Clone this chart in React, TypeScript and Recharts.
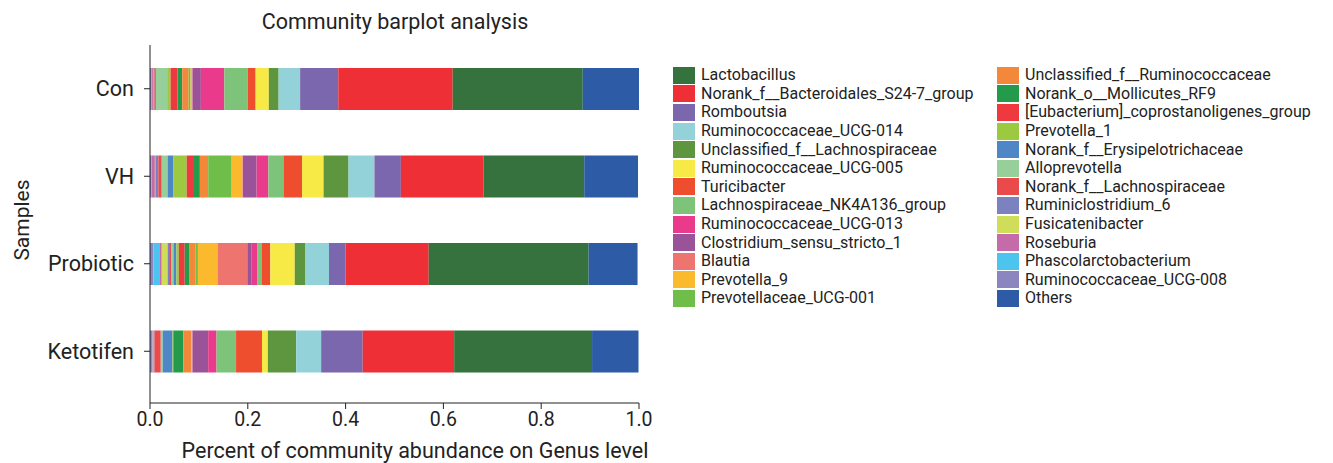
import React from 'react';
import { BarChart, Bar, XAxis, YAxis, Legend } from 'recharts';

// genera, in legend order
const genera = [
	'Lactobacillus',
	'Norank_f__Bacteroidales_S24-7_group',
	'Romboutsia',
	'Ruminococcaceae_UCG-014',
	'Unclassified_f__Lachnospiraceae',
	'Ruminococcaceae_UCG-005',
	'Turicibacter',
	'Lachnospiraceae_NK4A136_group',
	'Ruminococcaceae_UCG-013',
	'Clostridium_sensu_stricto_1',
	'Blautia',
	'Prevotella_9',
	'Prevotellaceae_UCG-001',
	'Unclassified_f__Ruminococcaceae',
	'Norank_o__Mollicutes_RF9',
	'[Eubacterium]_coprostanoligenes_group',
	'Prevotella_1',
	'Norank_f__Erysipelotrichaceae',
	'Alloprevotella',
	'Norank_f__Lachnospiraceae',
	'Ruminiclostridium_6',
	'Fusicatenibacter',
	'Roseburia',
	'Phascolarctobacterium',
	'Ruminococcaceae_UCG-008',
	'Others',
];

const colors = [
	'#35723D', '#EE2F35', '#7A67AE', '#93D2D9', '#5E963F', '#F7E946', '#EE4D2E',
	'#7DC37A', '#E93A8C', '#9A5299', '#EE7470', '#FBB92E', '#70BE4A', '#F4883A',
	'#239B4A', '#EE3A3E', '#9BC93F', '#4F86C6', '#96CF9A', '#EB4A4A', '#7C82BF',
	'#CFDD5A', '#C56BAA', '#4DC4EE', '#8B86BF', '#2D5BA6',
];

const samples = ['Con', 'VH', 'Probiotic', 'Ketotifen'];

// relative abundance per sample, same order as genera
const conValues = [0.266, 0.234, 0.078, 0.044, 0.020, 0.027, 0.016, 0.048, 0.048, 0.017, 0.001, 0.003, 0.004, 0.013, 0.010, 0.014, 0.006, 0.001, 0.023, 0.003, 0.002, 0.001, 0.003, 0.001, 0.002, 0.115];
const vhValues = [0.206, 0.169, 0.054, 0.053, 0.051, 0.044, 0.038, 0.031, 0.024, 0.028, 0.001, 0.022, 0.048, 0.017, 0.014, 0.013, 0.027, 0.012, 0.012, 0.007, 0.006, 0.001, 0.007, 0.001, 0.002, 0.110];
const probioticValues = [0.327, 0.170, 0.034, 0.048, 0.022, 0.050, 0.018, 0.009, 0.012, 0.008, 0.061, 0.040, 0.005, 0.012, 0.010, 0.012, 0.005, 0.006, 0.005, 0.004, 0.003, 0.012, 0.005, 0.012, 0.007, 0.100];
const ketotifenValues = [0.282, 0.187, 0.085, 0.051, 0.058, 0.012, 0.053, 0.040, 0.017, 0.032, 0.001, 0.001, 0.001, 0.016, 0.020, 0.001, 0.001, 0.020, 0.004, 0.013, 0.002, 0.001, 0.001, 0.001, 0.004, 0.095];

const xTicks = [0, 0.2, 0.4, 0.6, 0.8, 1.0];

const allValues = [conValues, vhValues, probioticValues, ketotifenValues];
const data = samples.map((s, i) => {
	const row: any = { sample: s };
	genera.forEach((g, j) => { row[g] = allValues[i][j]; });
	return row;
});

// stacking from left: legend reversed, Others kept at the far right
const stackIdx = [...genera.map((_, i) => i).slice(0, genera.length - 1).reverse(), genera.length - 1];

const font = 'Roboto, "Liberation Sans", Arial, sans-serif';
const ink = '#222';

function LegendBox() {
	const cols = [genera.slice(0, 13), genera.slice(13)];
	return (
		<div style={{ display: 'flex', fontFamily: font, fontSize: 16, color: ink }}>
			{cols.map((col, ci) => (
				<div key={ci} style={{ width: ci === 0 ? 324 : 330 }}>
					{col.map((g) => {
						const c = colors[genera.indexOf(g)];
						return (
							<div key={g} style={{ display: 'flex', alignItems: 'center', height: 18.6 }}>
								<span style={{ display: 'inline-block', width: 22, height: 17, background: c, marginRight: 6, flex: 'none' }} />
								<span style={{ lineHeight: '18px', whiteSpace: 'nowrap' }}>{g}</span>
							</div>
						);
					})}
				</div>
			))}
		</div>
	);
}

export default function App() {
	return (
		<div style={{ position: 'relative', width: 1333, height: 463 }}>
			<style>{'body{margin:0}'}</style>
			<div style={{ position: 'absolute', left: 395, top: 9, transform: 'translateX(-50%)', fontFamily: font, fontSize: 21.5, color: ink, whiteSpace: 'nowrap' }}>
				Community barplot analysis
			</div>
			<BarChart
				width={1333}
				height={463}
				data={data}
				layout="vertical"
				margin={{ top: 45, right: 694, left: 22, bottom: 0 }}
				barSize={42}
			>
				<XAxis
					type="number"
					domain={[0, 1]}
					ticks={xTicks}
					tickFormatter={(v: number) => v.toFixed(1)}
					axisLine={{ stroke: ink }}
					tickLine={{ stroke: ink }}
					tickSize={6}
					tickMargin={3}
					tick={{ fill: ink, fontSize: 19.5, fontFamily: font }}
					height={60}
					label={{
						content: () => (
							<text x={415} y={458} textAnchor="middle" fill={ink} fontSize={21.5} fontFamily={font}>
								Percent of community abundance on Genus level
							</text>
						),
					}}
				/>
				<YAxis
					type="category"
					dataKey="sample"
					width={128}
					padding={{ top: 0, bottom: 8 }}
					axisLine={{ stroke: ink }}
					tickLine={{ stroke: ink }}
					tickSize={6}
					tickMargin={10}
					tick={{ fill: ink, fontSize: 21.5, fontFamily: font }}
					label={{
						content: () => (
							<text x={0} y={0} transform="translate(29,220) rotate(-90)" textAnchor="middle" fill={ink} fontSize={21} fontFamily={font}>
								Samples
							</text>
						),
					}}
				/>
				<Legend
					layout="horizontal"
					align="center"
					verticalAlign="middle"
					wrapperStyle={{ position: 'absolute', left: 673, top: 66, width: 660 }}
					content={() => <LegendBox />}
				/>
				{stackIdx.map((i) => (
					<Bar key={genera[i]} dataKey={genera[i]} stackId="a" fill={colors[i]} isAnimationActive={false} />
				))}
			</BarChart>
		</div>
	);
}
